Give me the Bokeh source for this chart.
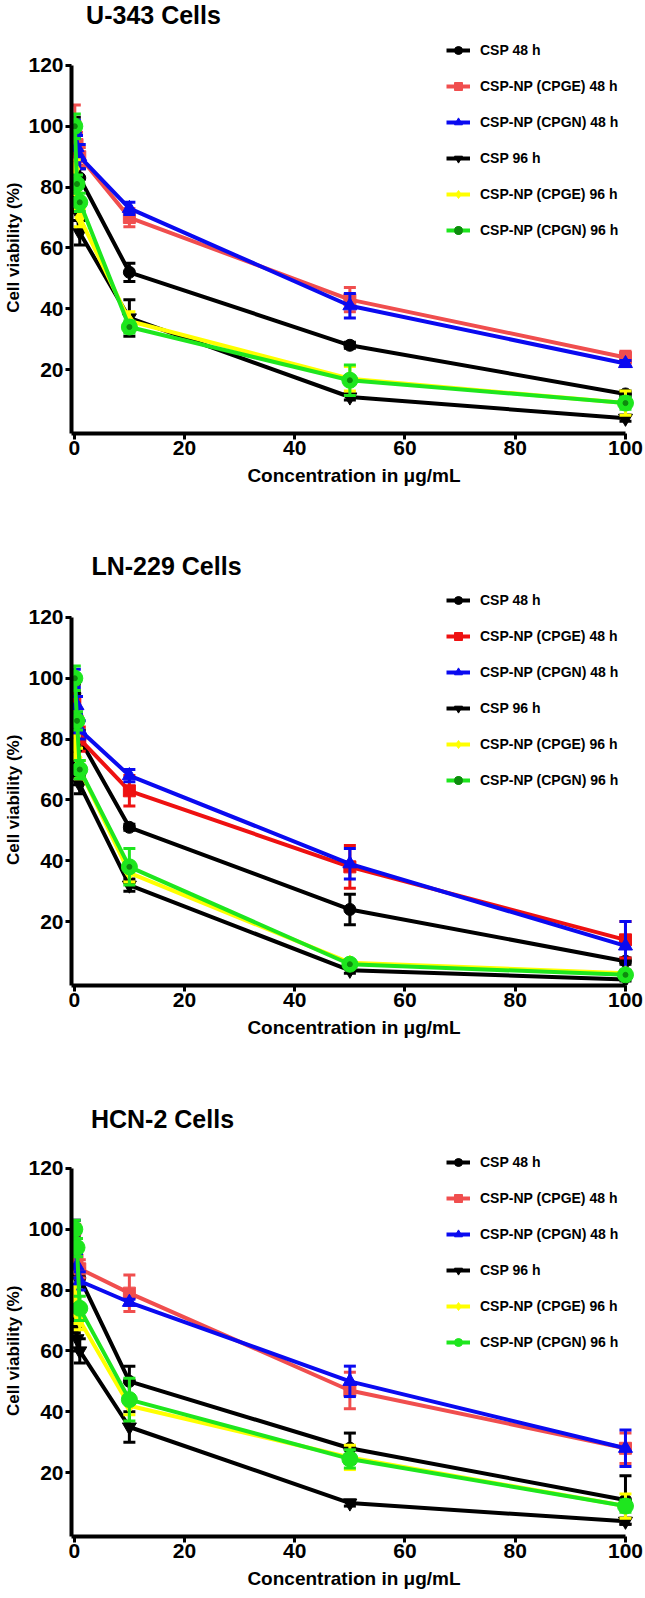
from bokeh.plotting import figure
from bokeh.layouts import column
from bokeh.models import Range1d, Legend, LegendItem, FixedTicker, ColumnDataSource, Label
from bokeh.embed import file_html
from bokeh.resources import INLINE

FONT = "Liberation Sans"

# ---------------- data ----------------
conc = [0.1, 0.5, 1, 10, 50, 100]
series_labels = ["CSP 48 h", "CSP-NP (CPGE) 48 h", "CSP-NP (CPGN) 48 h",
                 "CSP 96 h", "CSP-NP (CPGE) 96 h", "CSP-NP (CPGN) 96 h"]
x_ticks = [0, 20, 40, 60, 80, 100]
y_ticks = [20, 40, 60, 80, 100, 120]

# U-343 cells
u343_csp48 = [100, 90, 83, 52, 28, 12]
u343_csp48_err = [3, 3, 3, 3, 1, 1]
u343_cpge48 = [100, 94, 90, 70, 43, 24]
u343_cpge48_err = [7, 4, 3, 3, 4, 2]
u343_cpgn48 = [99, 93, 90, 73, 41, 22]
u343_cpgn48_err = [3, 4, 4, 2, 4, 1]
u343_csp96 = [80, 72, 65, 37, 11, 4]
u343_csp96_err = [3, 3, 4, 6, 1, 1]
u343_cpge96 = [86, 78, 70, 36, 17, 9]
u343_cpge96_err = [3, 3, 3, 3, 4, 4]
u343_cpgn96 = [100, 81, 75, 34, 16.5, 9]
u343_cpgn96_err = [4, 3, 3, 2, 5, 2]

# LN-229 cells
ln229_csp48 = [95, 85, 80, 51, 24, 7]
ln229_csp48_err = [3, 3, 3, 1, 5, 1]
ln229_cpge48 = [92, 86, 80, 63, 38, 14]
ln229_cpge48_err = [4, 4, 4, 5, 7, 6]
ln229_cpgn48 = [100, 91, 83, 68, 39, 12]
ln229_cpgn48_err = [3, 3, 3, 2, 5, 8]
ln229_csp96 = [75, 68, 65, 32, 4, 1]
ln229_csp96_err = [3, 3, 3, 2, 1, 0.5]
ln229_cpge96 = [78, 74, 70, 36, 6.5, 3]
ln229_cpge96_err = [3, 3, 3, 3, 1, 1]
ln229_cpgn96 = [100, 86, 70, 38, 6, 2.5]
ln229_cpgn96_err = [4, 3, 3, 6, 1, 1]

# HCN-2 cells
hcn2_csp48 = [95, 88, 84, 50, 28, 11]
hcn2_csp48_err = [3, 3, 3, 5, 5, 8]
hcn2_cpge48 = [100, 90, 87, 79, 47, 28]
hcn2_cpge48_err = [3, 3, 3, 6, 6, 5]
hcn2_cpgn48 = [100, 88, 83, 76, 50, 28]
hcn2_cpgn48_err = [3, 4, 3, 1, 5, 6]
hcn2_csp96 = [70, 64, 60, 35, 10, 4]
hcn2_csp96_err = [4, 4, 4, 5, 1, 1]
hcn2_cpge96 = [78, 72, 70, 42, 25, 9]
hcn2_cpge96_err = [3, 3, 3, 3, 4, 4]
hcn2_cpgn96 = [100, 94, 74, 44, 24.5, 9]
hcn2_cpgn96_err = [3, 3, 4, 7, 3, 2]

# ---------------- styling ----------------
BLACK = "#000000"
BLUE = "#0A0AF0"
YELLOW = "#FFFF00"
GREEN = "#1EE61E"
DOTGREEN = "#0E8A0E"
markers = ["circle", "square", "triangle", "inverted_triangle", "diamond", "circle"]
msizes = [12, 12, 14, 14, 15, 16]
PPU = 3.042          # pixels per % on the y axis
W = 645
BL, BR = 71, 9
YLAB_SIZE = 17
NBSP_W = 0.278 * YLAB_SIZE


def make_panel(title, means, errs, red, dotted, height, b_bottom,
               legend_vy, title_x, title_y):
    colors = [BLACK, red, BLUE, BLACK, YELLOW, GREEN]
    frame_h = height - b_bottom
    ytop = -1 + frame_h / PPU
    p = figure(width=W, height=height,
               x_range=Range1d(-0.5, 102), y_range=Range1d(-1, ytop),
               output_backend="svg", toolbar_location=None,
               min_border_left=BL, min_border_right=BR,
               min_border_top=0, min_border_bottom=b_bottom)
    p.grid.visible = False
    p.outline_line_color = None

    p.xaxis.ticker = FixedTicker(ticks=x_ticks)
    p.yaxis.ticker = FixedTicker(ticks=y_ticks)
    p.xaxis.bounds = (-0.5, 100)
    p.yaxis.bounds = (-1, 120)
    p.xaxis.axis_label = "Concentration in \u03bcg/mL"
    # the axis title is centred on the whole frame; pad its end (top) so that
    # the visible words sit at the middle of the 0-120 axis line
    shift = frame_h / 2 - 61 * PPU
    pad = max(0, int(round(2 * shift / NBSP_W)))
    p.yaxis.axis_label = "Cell viability (%)" + "\u00a0" * pad
    for ax in (p.xaxis[0], p.yaxis[0]):
        ax.axis_line_width = 4
        ax.axis_line_color = "black"
        ax.major_tick_line_width = 3
        ax.major_tick_line_color = "black"
        ax.major_tick_out = 6
        ax.major_tick_in = 0
        ax.minor_tick_line_color = None
        ax.major_label_text_font = FONT
        ax.major_label_text_font_style = "bold"
        ax.major_label_text_font_size = "21px"
        ax.major_label_text_color = "black"
        ax.axis_label_text_font = FONT
        ax.axis_label_text_font_style = "bold"
        ax.axis_label_text_color = "black"
    p.xaxis.major_label_standoff = 1
    p.xaxis.axis_label_standoff = 7
    p.yaxis.major_label_standoff = 2
    p.yaxis.axis_label_standoff = 2
    p.xaxis.axis_label_text_font_size = "19px"
    p.yaxis.axis_label_text_font_size = "%dpx" % YLAB_SIZE

    items = []
    for i in range(6):
        m = means[i]
        e = errs[i]
        c = colors[i]
        src = ColumnDataSource(dict(
            x=conc, y=m,
            lo=[a - b for a, b in zip(m, e)],
            hi=[a + b for a, b in zip(m, e)]))
        p.segment(x0="x", y0="lo", x1="x", y1="hi", source=src,
                  line_color=c, line_width=3)
        p.scatter(x="x", y="hi", marker="dash", size=12, source=src,
                  line_color=c, line_width=3)
        p.scatter(x="x", y="lo", marker="dash", size=12, source=src,
                  line_color=c, line_width=3)
        lr = p.line(x="x", y="y", source=src, line_color=c, line_width=4)
        mr = p.scatter(x="x", y="y", marker=markers[i], size=msizes[i],
                       source=src, fill_color=c, line_color=c)
        rends = [lr, mr]
        if i == 5 and dotted:
            dr = p.scatter(x="x", y="y", marker="circle", size=5, source=src,
                           fill_color=DOTGREEN, line_color=DOTGREEN)
            rends.append(dr)
        items.append(LegendItem(label=series_labels[i], renderers=rends))

    leg = Legend(items=items, location=(375, legend_vy),
                 label_text_font=FONT, label_text_font_style="bold",
                 label_text_font_size="14px", label_text_color="black",
                 glyph_width=24, glyph_height=20, label_height=20,
                 spacing=16, padding=0, margin=0, label_standoff=10,
                 border_line_alpha=0, background_fill_alpha=0)
    p.add_layout(leg)

    # panel title, placed in screen units from the frame's bottom-left corner
    p.add_layout(Label(x=title_x - BL, y=frame_h - title_y,
                       x_units="screen", y_units="screen", text=title,
                       text_font=FONT, text_font_style="bold",
                       text_font_size="25px", text_color="black",
                       text_align="center", text_baseline="middle"))
    return p


p1 = make_panel("U-343 Cells",
                [u343_csp48, u343_cpge48, u343_cpgn48, u343_csp96, u343_cpge96, u343_cpgn96],
                [u343_csp48_err, u343_cpge48_err, u343_cpgn48_err, u343_csp96_err,
                 u343_cpge96_err, u343_cpgn96_err],
                "#F04E4E", True, 524, 91, 193, 153, 14)
p2 = make_panel("LN-229 Cells",
                [ln229_csp48, ln229_cpge48, ln229_cpgn48, ln229_csp96, ln229_cpge96, ln229_cpgn96],
                [ln229_csp48_err, ln229_cpge48_err, ln229_cpgn48_err, ln229_csp96_err,
                 ln229_cpge96_err, ln229_cpgn96_err],
                "#EE1111", True, 551, 90, 195, 166, 41)
p3 = make_panel("HCN-2 Cells",
                [hcn2_csp48, hcn2_cpge48, hcn2_cpgn48, hcn2_csp96, hcn2_cpge96, hcn2_cpgn96],
                [hcn2_csp48_err, hcn2_cpge48_err, hcn2_cpgn48_err, hcn2_csp96_err,
                 hcn2_cpge96_err, hcn2_cpgn96_err],
                "#F04E4E", False, 523, 62, 184, 162, 43)

layout = column(p1, p2, p3, spacing=0)
open("out.html", "w").write(file_html(layout, INLINE))
